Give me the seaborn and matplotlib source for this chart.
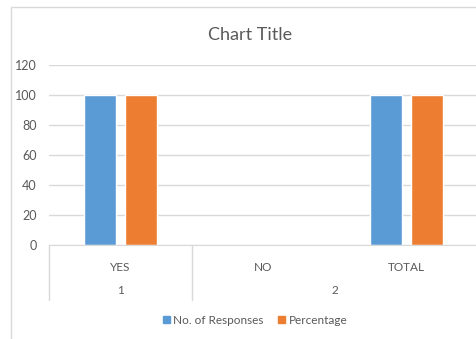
import matplotlib
matplotlib.use("Agg")
import matplotlib.pyplot as plt
import matplotlib.transforms as mtransforms
from matplotlib.patches import Rectangle
from matplotlib.lines import Line2D
import seaborn as sns
import pandas as pd

categories = ["YES", "NO", "TOTAL"]
groups = ["1", "2", "2"]
responses = [100, 0, 100]
percentage = [100, 0, 100]
series_names = ["No. of Responses", "Percentage"]
colors = ["#5B9BD5", "#ED7D31"]
yticks = [0, 20, 40, 60, 80, 100, 120]

df = pd.DataFrame({
    "category": categories * 2,
    "value": responses + percentage,
    "series": [series_names[0]] * 3 + [series_names[1]] * 3,
})

sns.set_style("white")
plt.rcParams["font.family"] = ["Lato", "DejaVu Sans"]
text_col = "#595959"
line_col = "#d9d9d9"

W, H = 477, 339
fig = plt.figure(figsize=(W / 100, H / 100), dpi=100)

# chart frame (cropped on the right / bottom like the source)
fig.patches.append(Rectangle((11 / W, -0.1), 1.2, 1 - 7 / H + 0.1,
                             transform=fig.transFigure, fill=False,
                             edgecolor=line_col, linewidth=1))

ax = fig.add_axes([49 / W, (H - 245) / H, 429 / W, 180 / H])
sns.barplot(data=df, x="category", y="value", hue="series", order=categories,
            hue_order=series_names, palette=colors, width=0.56, gap=0.2,
            saturation=1, ax=ax, legend=False)

ax.set_xlim(-0.5, 2.5)
ax.set_ylim(0, 120)
ax.set_yticks(yticks)
ax.set_yticklabels([str(v) for v in yticks], fontsize=9, color=text_col)
ax.grid(axis="y", color=line_col, linewidth=1)
ax.set_axisbelow(True)
for s in ["top", "right", "left"]:
    ax.spines[s].set_visible(False)
ax.spines["bottom"].set_color(line_col)
ax.tick_params(axis="y", length=0, pad=9)
ax.tick_params(axis="x", length=0, pad=12, labelsize=8.5, labelcolor=text_col)
ax.set_xlabel("")
ax.set_ylabel("")

# second level category labels and separators
trans = mtransforms.blended_transform_factory(ax.transData, ax.transAxes)
grp_names = []
for g in groups:
    if g not in grp_names:
        grp_names.append(g)
for g in grp_names:
    idx = [i for i, gg in enumerate(groups) if gg == g]
    ax.text((idx[0] + idx[-1]) / 2, -45 / 180, g, transform=trans,
            ha="center", va="center", fontsize=8.5, color=text_col)
    ax.add_line(Line2D([idx[0] - 0.5, idx[0] - 0.5], [0, -55 / 180],
                       transform=trans, color=line_col, linewidth=1,
                       clip_on=False))

fig.text(250 / W, 1 - 35 / H, "Chart Title", ha="center", va="center",
         fontsize=13, color=text_col)

handles = [Rectangle((0, 0), 1, 1, color=c) for c in colors]
fig.legend(handles, series_names, loc="center", bbox_to_anchor=(255 / W, 1 - 320 / H),
           ncol=2, frameon=False, fontsize=8.5, labelcolor=text_col,
           handlelength=0.6, handleheight=0.6, handletextpad=0.3,
           columnspacing=1.2)

fig.savefig("out.png", dpi=100)
